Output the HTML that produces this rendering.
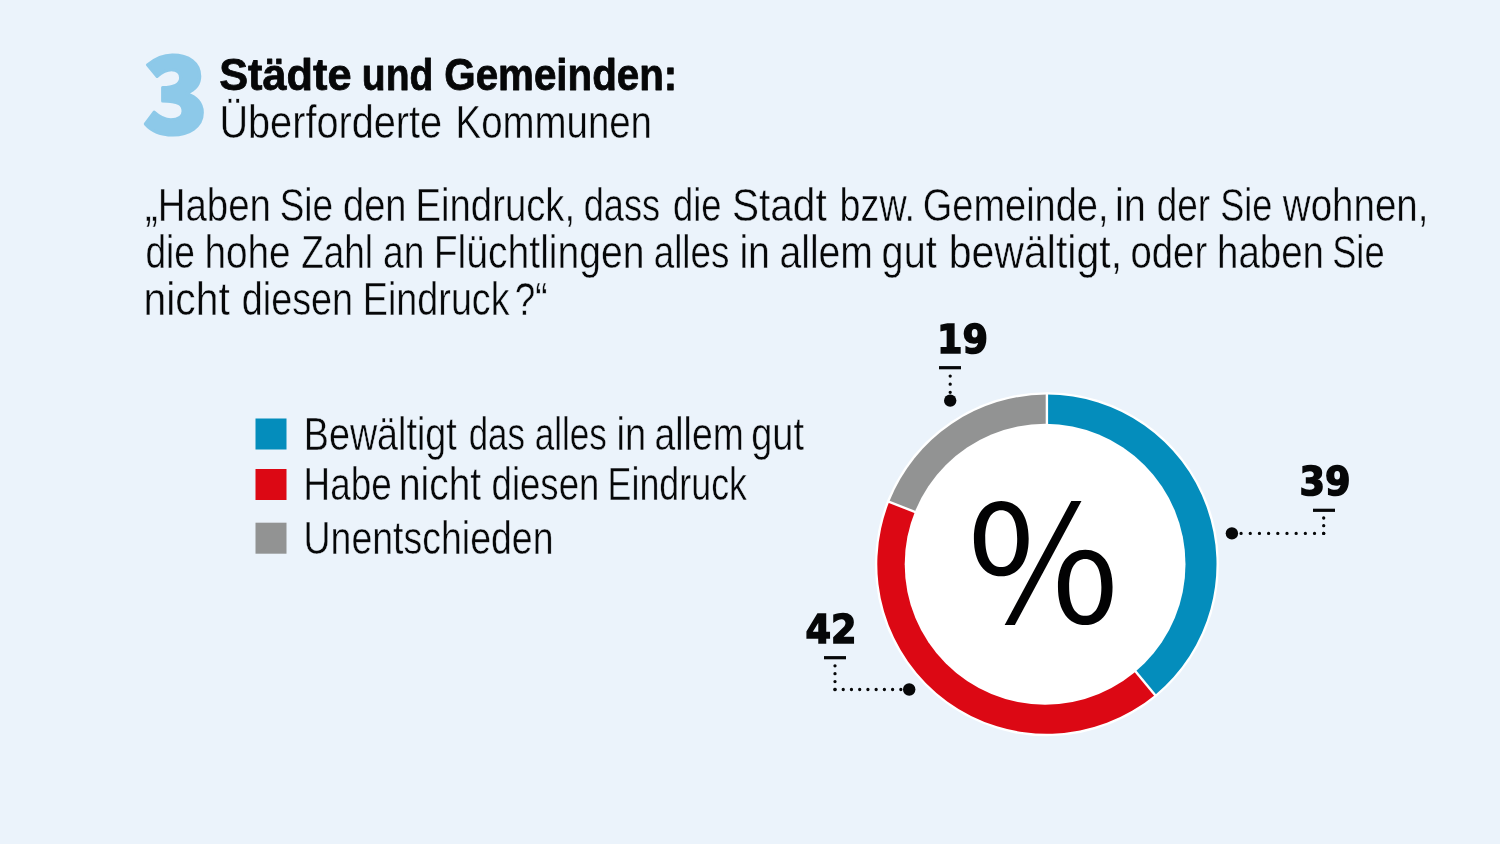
<!DOCTYPE html>
<html lang="de">
<head>
<meta charset="utf-8">
<title>Städte und Gemeinden: Überforderte Kommunen</title>
<style>
html,body{margin:0;padding:0;background:#ebf3fb;}
body{width:1500px;height:844px;overflow:hidden;font-family:"Liberation Sans",sans-serif;}
svg{display:block;}
text{font-family:"Liberation Sans",sans-serif;fill:#060708;}
.b{font-weight:bold;stroke:#060708;stroke-width:0.8px;stroke-linejoin:round;}
.r{stroke:#ebf3fb;stroke-width:0.45px;}
.num{font-family:"DejaVu Sans","Liberation Sans",sans-serif;font-weight:bold;stroke:#060708;stroke-width:1.6;stroke-linejoin:miter;}
</style>
</head>
<body>
<svg width="1500" height="844" viewBox="0 0 1500 844">
<rect x="0" y="0" width="1500" height="844" fill="#ebf3fb"/>

<!-- big number -->
<text id="big3" x="142.8" y="133.8" font-size="106.3" textLength="65.5" lengthAdjust="spacingAndGlyphs" style="font-family:'Noto Sans CJK JP','Liberation Sans',sans-serif;font-weight:900;fill:#8dc9e9;stroke:#8dc9e9;stroke-width:3;stroke-linejoin:round;">3</text>

<!-- headline -->
<text id="t1" class="b" y="90.0" font-size="44.5"><tspan x="219.2" textLength="132.3" lengthAdjust="spacingAndGlyphs">Städte</tspan> <tspan x="361.8" textLength="71.5" lengthAdjust="spacingAndGlyphs">und</tspan> <tspan x="444.3" textLength="233.0" lengthAdjust="spacingAndGlyphs">Gemeinden:</tspan></text>
<text id="t2" class="r" y="137.6" font-size="45.5"><tspan x="219.4" textLength="222.8" lengthAdjust="spacingAndGlyphs">Überforderte</tspan> <tspan x="455.5" textLength="196.5" lengthAdjust="spacingAndGlyphs">Kommunen</tspan></text>

<!-- question -->
<text id="q1" class="r" y="220.8" font-size="45.5"><tspan x="144.9" textLength="126.1" lengthAdjust="spacingAndGlyphs">„Haben</tspan> <tspan x="279.7" textLength="53.4" lengthAdjust="spacingAndGlyphs">Sie</tspan> <tspan x="343.0" textLength="63.5" lengthAdjust="spacingAndGlyphs">den</tspan> <tspan x="415.5" textLength="159.6" lengthAdjust="spacingAndGlyphs">Eindruck,</tspan> <tspan x="583.7" textLength="76.4" lengthAdjust="spacingAndGlyphs">dass</tspan> <tspan x="673.0" textLength="48.5" lengthAdjust="spacingAndGlyphs">die</tspan> <tspan x="732.0" textLength="94.7" lengthAdjust="spacingAndGlyphs">Stadt</tspan> <tspan x="839.6" textLength="75.4" lengthAdjust="spacingAndGlyphs">bzw.</tspan> <tspan x="922.8" textLength="185.7" lengthAdjust="spacingAndGlyphs">Gemeinde,</tspan> <tspan x="1114.9" textLength="30.9" lengthAdjust="spacingAndGlyphs">in</tspan> <tspan x="1156.7" textLength="53.4" lengthAdjust="spacingAndGlyphs">der</tspan> <tspan x="1220.2" textLength="52.1" lengthAdjust="spacingAndGlyphs">Sie</tspan> <tspan x="1282.8" textLength="145.7" lengthAdjust="spacingAndGlyphs">wohnen,</tspan></text>
<text id="q2" class="r" y="268.0" font-size="45.5"><tspan x="145.5" textLength="49.4" lengthAdjust="spacingAndGlyphs">die</tspan> <tspan x="204.4" textLength="86.2" lengthAdjust="spacingAndGlyphs">hohe</tspan> <tspan x="301.2" textLength="71.8" lengthAdjust="spacingAndGlyphs">Zahl</tspan> <tspan x="383.0" textLength="41.4" lengthAdjust="spacingAndGlyphs">an</tspan> <tspan x="433.7" textLength="210.8" lengthAdjust="spacingAndGlyphs">Flüchtlingen</tspan> <tspan x="653.7" textLength="75.7" lengthAdjust="spacingAndGlyphs">alles</tspan> <tspan x="739.4" textLength="30.6" lengthAdjust="spacingAndGlyphs">in</tspan> <tspan x="779.4" textLength="93.6" lengthAdjust="spacingAndGlyphs">allem</tspan> <tspan x="881.6" textLength="55.1" lengthAdjust="spacingAndGlyphs">gut</tspan> <tspan x="948.7" textLength="173.4" lengthAdjust="spacingAndGlyphs">bewältigt,</tspan> <tspan x="1130.5" textLength="76.7" lengthAdjust="spacingAndGlyphs">oder</tspan> <tspan x="1217.0" textLength="107.0" lengthAdjust="spacingAndGlyphs">haben</tspan> <tspan x="1332.2" textLength="52.4" lengthAdjust="spacingAndGlyphs">Sie</tspan></text>
<text id="q3" class="r" y="315.2" font-size="45.5"><tspan x="143.5" textLength="86.3" lengthAdjust="spacingAndGlyphs">nicht</tspan> <tspan x="241.8" textLength="111.2" lengthAdjust="spacingAndGlyphs">diesen</tspan> <tspan x="362.8" textLength="146.8" lengthAdjust="spacingAndGlyphs">Eindruck</tspan> <tspan x="514.7" textLength="32.8" lengthAdjust="spacingAndGlyphs">?“</tspan></text>

<!-- legend -->
<rect x="255.5" y="418.5" width="31" height="31" fill="#048dbc"/>
<rect x="255.5" y="469" width="31" height="31" fill="#dc0814"/>
<rect x="255.5" y="522.7" width="31" height="31" fill="#929393"/>
<text id="l1" class="r" y="449.7" font-size="45.5"><tspan x="303.8" textLength="152.9" lengthAdjust="spacingAndGlyphs">Bewältigt</tspan> <tspan x="468.7" textLength="56.3" lengthAdjust="spacingAndGlyphs">das</tspan> <tspan x="534.7" textLength="72.1" lengthAdjust="spacingAndGlyphs">alles</tspan> <tspan x="616.5" textLength="29.6" lengthAdjust="spacingAndGlyphs">in</tspan> <tspan x="654.6" textLength="89.1" lengthAdjust="spacingAndGlyphs">allem</tspan> <tspan x="751.2" textLength="52.8" lengthAdjust="spacingAndGlyphs">gut</tspan></text>
<text id="l2" class="r" y="500.0" font-size="45.5"><tspan x="303.6" textLength="88.1" lengthAdjust="spacingAndGlyphs">Habe</tspan> <tspan x="398.9" textLength="82.2" lengthAdjust="spacingAndGlyphs">nicht</tspan> <tspan x="491.6" textLength="107.7" lengthAdjust="spacingAndGlyphs">diesen</tspan> <tspan x="607.5" textLength="139.5" lengthAdjust="spacingAndGlyphs">Eindruck</tspan></text>
<text id="l3" class="r" y="553.7" font-size="45.5"><tspan x="303.5" textLength="250.0" lengthAdjust="spacingAndGlyphs">Unentschieden</tspan></text>

<!-- donut -->
<g id="donut">
<circle cx="1046.9" cy="564.2" r="172" fill="#ffffff"/>
<path d="M1046.9 564.2L1046.90 394.60A169.6 169.6 0 0 1 1155.01 694.88Z" fill="#048dbc"/>
<path d="M1046.9 564.2L1155.01 694.88A169.6 169.6 0 0 1 889.21 501.77Z" fill="#dc0814"/>
<path d="M1046.9 564.2L889.21 501.77A169.6 169.6 0 0 1 1046.90 394.60Z" fill="#929393"/>
<line x1="1046.9" y1="564.2" x2="1046.90" y2="392.60" stroke="#fff" stroke-width="2.4"/>
<line x1="1046.9" y1="564.2" x2="1156.28" y2="696.42" stroke="#fff" stroke-width="2.4"/>
<line x1="1046.9" y1="564.2" x2="887.35" y2="501.03" stroke="#fff" stroke-width="2.4"/>
<circle cx="1045.1" cy="564.25" r="140.4" fill="#ffffff"/>
</g>

<!-- leaders -->
<g fill="#060708" stroke="none">
<rect x="939" y="366.1" width="22" height="3.2"/>
<circle cx="950.2" cy="400.6" r="6.2"/>
<rect x="1313" y="508.7" width="22" height="3.2"/>
<circle cx="1231.9" cy="533.4" r="6.2"/>
<rect x="824" y="656.1" width="22" height="3.2"/>
<circle cx="909.2" cy="689.5" r="6.2"/>
</g>
<g fill="none" stroke="#060708" stroke-width="3.3" stroke-linecap="round">
<path d="M950.2 376.1V393" stroke-dasharray="0 8.1"/>
<path d="M1323.7 518V534" stroke-dasharray="0 7.7"/>
<path d="M1323.7 533.4H1240" stroke-dasharray="0 9.18"/>
<path d="M835 665.8V690" stroke-dasharray="0 7.9"/>
<path d="M835 689.5H902" stroke-dasharray="0 8.23"/>
</g>
<text id="n19" class="num" x="937" y="352.8" font-size="39.8" textLength="51" lengthAdjust="spacingAndGlyphs">19</text>
<text id="n39" class="num" x="1299.5" y="495" font-size="39.8" textLength="51" lengthAdjust="spacingAndGlyphs">39</text>
<text id="n42" class="num" x="805.5" y="642.8" font-size="39.8" textLength="51" lengthAdjust="spacingAndGlyphs">42</text>


<text id="pct" x="967.5" y="623.3" font-size="164" textLength="151.5" lengthAdjust="spacingAndGlyphs" style="font-family:'Noto Sans CJK JP','Liberation Sans',sans-serif;font-weight:400;fill:#020203">%</text>

</svg>
</body>
</html>
